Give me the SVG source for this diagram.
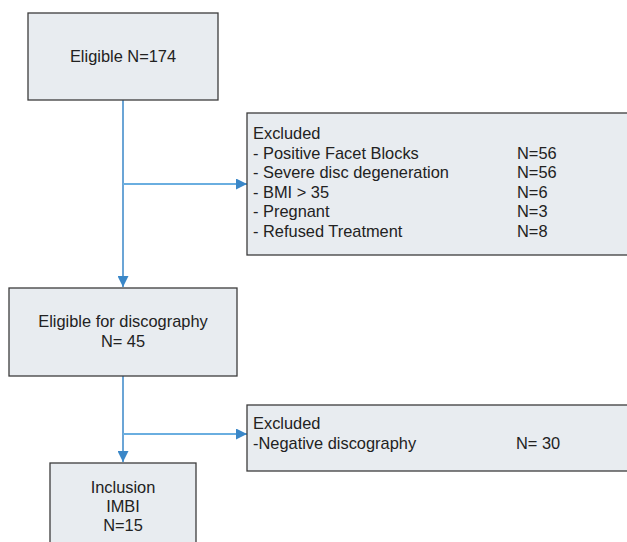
<svg xmlns="http://www.w3.org/2000/svg" width="627" height="542" viewBox="0 0 627 542">
<defs>
<style>
.box{fill:#e8ecf0;stroke:#3c3c3c;stroke-width:1.3}
.t{font-family:"Liberation Sans",Arial,sans-serif;font-size:16.4px;fill:#222}
.c{text-anchor:middle}
.ln{stroke:#3a87c8;stroke-width:1.5;fill:none}
.lh{stroke:#6aaee0;stroke-width:2;fill:none}
</style>
<marker id="ah" viewBox="0 0 10 10" refX="10" refY="5" markerWidth="11" markerHeight="11" markerUnits="userSpaceOnUse" orient="auto">
<path d="M0,0 L10,5 L0,10 Z" fill="#3a87c8"/>
</marker>
</defs>
<g id="connectors">
<line class="ln" x1="123" y1="100" x2="123" y2="287" marker-end="url(#ah)"/>
<line class="lh" x1="123" y1="184" x2="247" y2="184" marker-end="url(#ah)"/>
<line class="ln" x1="123" y1="376" x2="123" y2="462" marker-end="url(#ah)"/>
<line class="lh" x1="123" y1="434" x2="247" y2="434" marker-end="url(#ah)"/>
</g>
<g id="eligible">
<rect class="box" x="28" y="13" width="190" height="87"/>
<text class="t c" x="123" y="62">Eligible N=174</text>
</g>
<g id="excluded1">
<rect class="box" x="247" y="113" width="382" height="142"/>
<text class="t" x="253" y="139">Excluded</text>
<text class="t" x="253" y="159">- Positive Facet Blocks</text>
<text class="t" x="253" y="178">- Severe disc degeneration</text>
<text class="t" x="253" y="198">- BMI &gt; 35</text>
<text class="t" x="253" y="217">- Pregnant</text>
<text class="t" x="253" y="237">- Refused Treatment</text>
<text class="t" x="517" y="159">N=56</text>
<text class="t" x="517" y="178">N=56</text>
<text class="t" x="517" y="198">N=6</text>
<text class="t" x="517" y="217">N=3</text>
<text class="t" x="517" y="237">N=8</text>
</g>
<g id="discography">
<rect class="box" x="9" y="288" width="228" height="88"/>
<text class="t c" x="123" y="327">Eligible for discography</text>
<text class="t c" x="123" y="347">N= 45</text>
</g>
<g id="excluded2">
<rect class="box" x="247" y="405" width="382" height="66"/>
<text class="t" x="253" y="429">Excluded</text>
<text class="t" x="253" y="449">-Negative discography</text>
<text class="t" x="516" y="449">N= 30</text>
</g>
<g id="inclusion">
<rect class="box" x="50" y="463" width="146" height="90"/>
<text class="t c" x="123" y="493">Inclusion</text>
<text class="t c" x="123" y="512">IMBI</text>
<text class="t c" x="123" y="531">N=15</text>
</g>
</svg>
